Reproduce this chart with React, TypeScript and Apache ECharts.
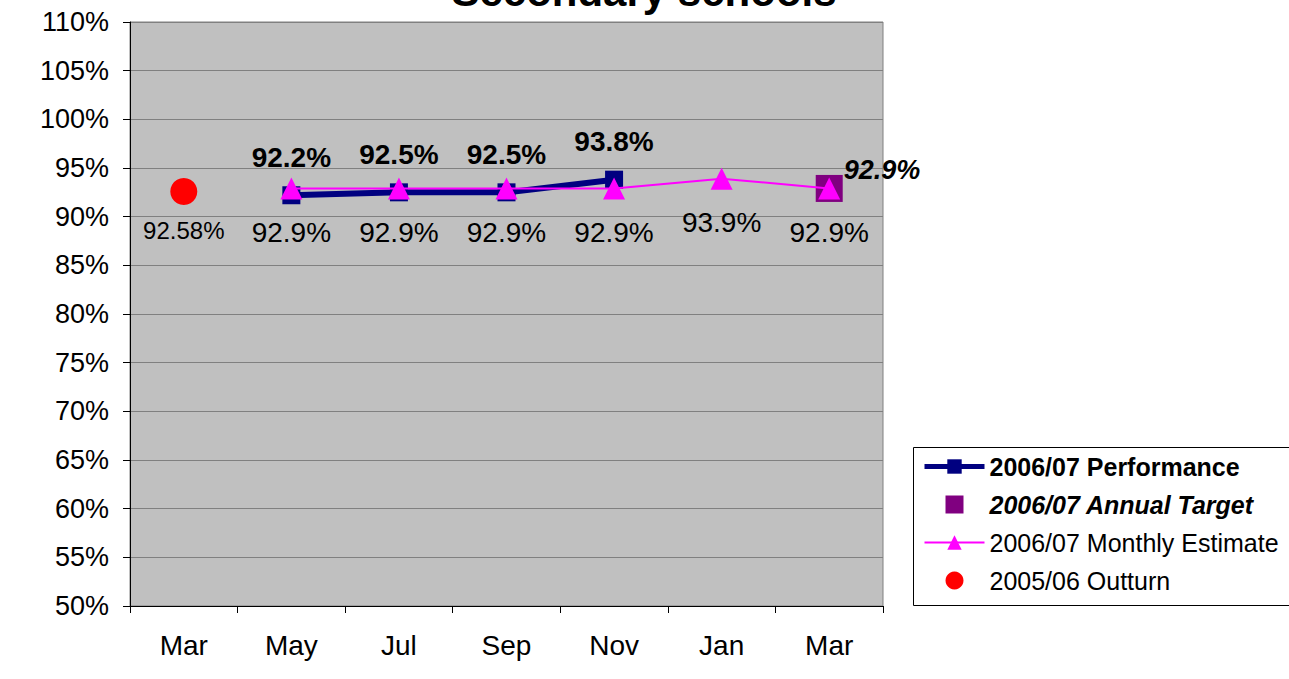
import React, { useEffect, useRef } from "react";
import * as echarts from "echarts";

const categories = ["Mar", "May", "Jul", "Sep", "Nov", "Jan", "Mar"];
const performance = [null, 92.2, 92.5, 92.5, 93.8, null, null];
const annualTarget = [null, null, null, null, null, null, 92.9];
const monthlyEstimate = [null, 92.9, 92.9, 92.9, 92.9, 93.9, 92.9];
const outturn = [92.58, null, null, null, null, null, null];
const yMin = 50;
const yMax = 110;
const yStep = 5;

const FONT = "'Liberation Sans', Arial, sans-serif";

export default function App() {
  const ref = useRef<HTMLDivElement>(null);
  useEffect(() => {
    document.body.style.margin = "0";
    const chart = echarts.init(ref.current!, null, { renderer: "svg" });
    chart.setOption({
      animation: false,
      backgroundColor: "#ffffff",
      textStyle: { fontFamily: FONT },
      graphic: [
        {
          type: "text",
          style: {
            text: "Secondary schools",
            x: 644,
            y: 12,
            align: "center",
            verticalAlign: "bottom",
            font: `bold 42px ${FONT}`,
            fill: "#000",
          },
        },
        {
          type: "rect",
          shape: { x: 913.5, y: 447.5, width: 420, height: 158 },
          style: { fill: "#fff", stroke: "#000", lineWidth: 1 },
          z: 5,
        },
      ],
      grid: {
        left: 130,
        top: 22,
        right: 406,
        bottom: 73,
        show: true,
        backgroundColor: "#c0c0c0",
        borderColor: "#808080",
        borderWidth: 1,
      },
      legend: {
        left: 922,
        top: 454,
        padding: 0,
        orient: "vertical",
        itemWidth: 60,
        itemHeight: 18,
        itemGap: 13,
        z: 10,
        textStyle: { fontSize: 25, color: "#000", fontFamily: FONT },
        data: [
          {
            name: "2006/07 Performance",
            textStyle: { fontWeight: "bold" },
            lineStyle: { width: 5 },
          },
          {
            name: "2006/07 Annual Target",
            icon: "path://M0,0h10v10h-10z",
            textStyle: { fontWeight: "bold", fontStyle: "italic" },
          },
          { name: "2006/07 Monthly Estimate" },
          { name: "2005/06 Outturn", icon: "circle" },
        ],
      },
      xAxis: {
        type: "category",
        data: categories,
        boundaryGap: true,
        axisLine: { lineStyle: { color: "#000", width: 1 } },
        axisTick: { show: true, length: 7, lineStyle: { color: "#000" } },
        axisLabel: { fontSize: 28, color: "#000", margin: 25, fontFamily: FONT },
        splitLine: { show: false },
      },
      yAxis: {
        type: "value",
        min: yMin,
        max: yMax,
        interval: yStep,
        axisLine: { show: true, lineStyle: { color: "#000", width: 1 } },
        axisTick: { show: true, length: 7, lineStyle: { color: "#000" } },
        axisLabel: {
          fontSize: 27,
          color: "#000",
          margin: 21,
          fontFamily: FONT,
          formatter: (v: number) => `${v}%`,
        },
        splitLine: { show: true, lineStyle: { color: "#808080", width: 1 } },
      },
      series: [
        {
          name: "2006/07 Performance",
          type: "line",
          data: performance,
          connectNulls: false,
          symbol: "rect",
          symbolSize: 18,
          lineStyle: { color: "#000080", width: 6 },
          itemStyle: { color: "#000080" },
          label: {
            show: true,
            position: "top",
            distance: 15,
            fontSize: 28,
            fontWeight: "bold",
            color: "#000",
            fontFamily: FONT,
            formatter: (p: any) => `${Number(p.value).toFixed(1)}%`,
          },
          z: 2,
        },
        {
          name: "2006/07 Annual Target",
          type: "scatter",
          data: annualTarget,
          symbol: "rect",
          symbolSize: 27,
          itemStyle: { color: "#800080", opacity: 1 },
          label: {
            show: true,
            position: "right",
            distance: 1,
            offset: [0, -18],
            fontSize: 27,
            fontWeight: "bold",
            fontStyle: "italic",
            color: "#000",
            fontFamily: FONT,
            formatter: (p: any) => `${Number(p.value).toFixed(1)}%`,
          },
          z: 3,
        },
        {
          name: "2006/07 Monthly Estimate",
          type: "line",
          data: monthlyEstimate,
          symbol: "triangle",
          symbolSize: 22,
          lineStyle: { color: "#ff00ff", width: 2 },
          itemStyle: { color: "#ff00ff" },
          label: {
            show: true,
            position: "bottom",
            distance: 19,
            fontSize: 28,
            color: "#000",
            fontFamily: FONT,
            formatter: (p: any) => `${Number(p.value).toFixed(1)}%`,
          },
          z: 4,
        },
        {
          name: "2005/06 Outturn",
          type: "scatter",
          data: outturn,
          symbol: "circle",
          symbolSize: 27,
          itemStyle: { color: "#ff0000", opacity: 1 },
          label: {
            show: true,
            position: "bottom",
            distance: 13,
            fontSize: 24,
            color: "#000",
            fontFamily: FONT,
            formatter: (p: any) => `${Number(p.value).toFixed(2)}%`,
          },
          z: 4,
        },
      ],
    });
    return () => chart.dispose();
  }, []);
  return (
    <div
      ref={ref}
      style={{ position: "absolute", left: 0, top: 0, width: 1289, height: 679 }}
    />
  );
}
